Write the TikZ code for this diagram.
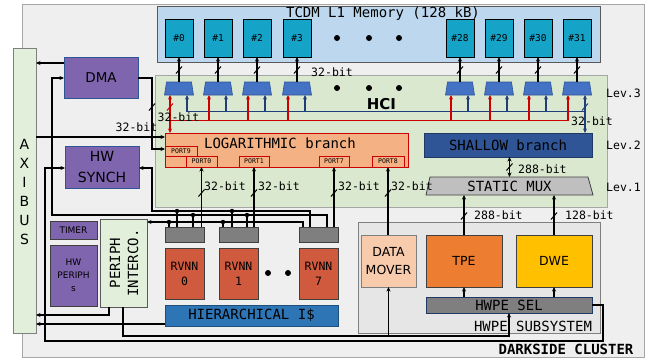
\documentclass[tikz,border=0pt]{standalone}
\usepackage{fontspec}
\setmainfont{DejaVu Sans}
\newfontfamily\monof{DejaVu Sans Mono}
\usetikzlibrary{arrows.meta,calc}
\definecolor{clbg}{HTML}{EFEFEF}
\definecolor{clbd}{HTML}{A6A6A6}
\definecolor{axifill}{HTML}{E2EFDA}
\definecolor{axibd}{HTML}{7F7F7F}
\definecolor{tcdmfill}{HTML}{BDD7EE}
\definecolor{tcdmbd}{HTML}{595959}
\definecolor{bankfill}{HTML}{16A3C8}
\definecolor{hcifill}{HTML}{DAE8D0}
\definecolor{muxfill}{HTML}{4472C4}
\definecolor{muxbd}{HTML}{2F5597}
\definecolor{redc}{HTML}{CC0000}
\definecolor{bluec}{HTML}{1F3E7A}
\definecolor{logfill}{HTML}{F4B183}
\definecolor{shalfill}{HTML}{2F5597}
\definecolor{shalbd}{HTML}{203864}
\definecolor{smuxfill}{HTML}{BFBFBF}
\definecolor{darkbd}{HTML}{404040}
\definecolor{purp}{HTML}{7F64AE}
\definecolor{gbfill}{HTML}{7F7F7F}
\definecolor{rvnn}{HTML}{D05A3E}
\definecolor{hier}{HTML}{2E75B6}
\definecolor{hierbd}{HTML}{1F4E79}
\definecolor{dmfill}{HTML}{F8CBAD}
\definecolor{tpec}{HTML}{ED7D31}
\definecolor{dwec}{HTML}{FFC000}
\definecolor{subfill}{HTML}{E7E6E6}
\newcommand\fsz[1]{\fontsize{#1}{#1}\selectfont}
\newcommand\mkbox[7]{\node[bx,#1,minimum width={(#5)-(#3)},minimum height={(#6)-(#4)}] (#2) at ({((#3)+(#5))/2},{((#4)+(#6))/2}) {#7};}
\newcommand\wtick[3][black]{\draw[#1,line width=1pt] ({#2-3},{#3+3.5}) -- ({#2+3},{#3-3.5});}
\begin{document}
\begin{tikzpicture}[x=1pt,y=-1pt,
  bx/.style={draw, inner sep=0pt, outer sep=0pt, line width=0.8pt, align=center},
  atip/.tip={Stealth[length=4.5pt,width=4pt]},
  wire/.style={line width=1.1pt, draw=black},
  arr/.style={wire, -atip},
  rl/.style={line width=1.1pt, draw=redc},
  bl/.style={line width=1.1pt, draw=bluec},
  lbl/.style={font=\monof\fsz{11.5}, inner sep=0pt},
  purpst/.style={fill=purp, draw=muxbd},
  port/.style={fill=logfill, draw=redc, font=\monof\fsz{6.5}},
  mono14/.style={font=\monof\fsz{14}}]
\useasboundingbox (0,0) rectangle (651,360);

% main frames
\mkbox{fill=clbg,draw=clbd,line width=1pt}{cluster}{22}{4}{644}{357}{}
\mkbox{fill=axifill,draw=axibd}{axi}{13}{48}{36}{333}{}
\node[font={\fontsize{14}{19}\selectfont}, align=center, inner sep=0pt] (axit) at (24.5,192) {A\\X\\I\\B\\U\\S};
\mkbox{fill=tcdmfill,draw=tcdmbd}{tcdm}{157}{6}{600}{62}{}
\node[mono14, inner sep=0pt] (tcdmt) at (383,13.5) {TCDM L1 Memory (128 kB)};
\mkbox{fill=hcifill,draw=clbd}{hci}{155}{75}{607}{207}{}
\node[font=\bfseries\fsz{15}, inner sep=0pt] (hcit) at (381.5,104) {HCI};
\node[lbl] (lev3) at (623.5,93) {Lev.3};
\node[lbl] (lev2) at (623.5,145) {Lev.2};
\node[lbl] (lev1) at (623.5,187) {Lev.1};
\foreach \x in {337,369,399}{\fill (\x,38) circle (3pt); \fill (\x,88) circle (3pt);}

% HCI branches
\mkbox{fill=logfill,draw=redc,line width=1pt}{log}{165}{133}{408}{167}{}
\node[mono14, inner sep=0pt] (logt) at (280,143.5) {LOGARITHMIC branch};
\mkbox{port}{p9}{165}{146}{197}{156}{PORT9}
\mkbox{port}{pe}{165}{156}{186}{167}{}
\mkbox{port}{p0}{186}{156}{217}{167}{PORT0}
\mkbox{port}{p1}{239}{156}{269}{167}{PORT1}
\mkbox{port}{p7}{319}{156}{349}{167}{PORT7}
\mkbox{port}{p8}{372}{156}{404}{167}{PORT8}
\mkbox{fill=shalfill,draw=shalbd,mono14}{shallow}{424}{133}{592}{157}{SHALLOW branch}
\filldraw[fill=smuxfill, draw=darkbd, line width=0.8pt] (430,177) -- (588,177) -- (593,195) -- (426,195) -- cycle;
\node[minimum width=167, minimum height=18, inner sep=0pt, outer sep=0pt, mono14] (smux) at (509.5,186) {STATIC MUX};

% banks and muxes
\foreach \c/\n in {179/0,218/1,257/2,297/3,460/28,499/29,538/30,577/31}{
  \node[bx, fill=bankfill, draw=black, minimum width=28, minimum height=38, font=\monof\fsz{9.5}] (b\n) at (\c,38) {\#\n};
  \node[minimum width=29, minimum height=13, inner sep=0pt, outer sep=0pt] (m\n) at (\c,88.5) {};
  \filldraw[fill=muxfill, draw=muxbd, line width=0.6pt] ([xshift=2pt]m\n.north west) -- ([xshift=-2pt]m\n.north east) -- (m\n.south east) -- (m\n.south west) -- cycle;
  \draw[arr] (m\n.north) -- (b\n.south);
  \wtick{\c}{70}
  \path ([xshift=-9pt]m\n.south) coordinate (rt\n) ([xshift=8pt]m\n.south) coordinate (bt\n);
}
\node[lbl] (l32a) at (332,72) {32-bit};

\coordinate (rbus) at (0,120.5);
\coordinate (bbus) at (0,111.5);
\draw[bl] (bt0 |- bbus) -- (bt31 |- bbus);
\foreach \n in {0,1,2,3,28,29,30} \draw[bl,-atip] (bt\n |- bbus) -- (bt\n);
\draw[rl] (rt0 |- rbus) -- (rt31 |- rbus);
\foreach \n in {1,2,3,28,29,30,31} \draw[rl,-atip] (rt\n |- rbus) -- (rt\n);
\draw[rl,atip-atip] (rt0 |- log.north) -- (rt0);
\draw[bl,atip-atip] (bt31 |- shallow.north) -- (bt31);
\wtick[redc]{170}{107}
\wtick[bluec]{585}{107}
\node[lbl] (l32b) at (178.5,117) {32-bit};
\node[lbl] (l32c) at (592,121) {32-bit};

\draw[wire,atip-atip] (smux.north |- shallow.south) -- (smux.north);
\wtick{509.5}{167}
\node[lbl, anchor=west] (l288a) at (518,169) {288-bit};

% left side blocks
\mkbox{purpst,font=\fsz{13.5}}{dma}{64}{57}{138}{98}{DMA}
\mkbox{purpst,font={\fontsize{14}{21}\selectfont}}{hws}{65}{146}{139}{188}{HW\\SYNCH}
\mkbox{fill=purp,draw=darkbd,font=\fsz{9}}{timer}{50}{221}{97}{239}{TIMER}
\mkbox{fill=purp,draw=darkbd,font={\fontsize{9}{13}\selectfont}}{hwp}{50}{245}{97}{306}{HW\\PERIPH\\s}
\mkbox{fill=axifill,draw=tcdmbd}{pi}{100}{219}{147}{307}{}
\node[rotate=90, font={\monof\fontsize{14}{18}\selectfont}, align=center, inner sep=0pt] (pit) at (124,263) {PERIPH\\INTERCO.};

% cores
\mkbox{fill=gbfill,draw=darkbd}{gb0}{165}{227}{204}{242}{}
\mkbox{fill=gbfill,draw=darkbd}{gb1}{219}{227}{258}{242}{}
\mkbox{fill=gbfill,draw=darkbd}{gb7}{299}{227}{338}{242}{}
\mkbox{fill=rvnn,draw=darkbd,font={\monof\fontsize{11.5}{15}\selectfont}}{r0}{165}{248}{204}{299}{RVNN\\0}
\mkbox{fill=rvnn,draw=darkbd,font={\monof\fontsize{11.5}{15}\selectfont}}{r1}{219}{248}{258}{299}{RVNN\\1}
\mkbox{fill=rvnn,draw=darkbd,font={\monof\fontsize{11.5}{15}\selectfont}}{r7}{299}{248}{338}{299}{RVNN\\7}
\fill (268,273) circle (3pt); \fill (288,273) circle (3pt);
\mkbox{fill=hier,draw=hierbd,mono14}{hier}{165}{305}{338}{326}{HIERARCHICAL I\$}

% HWPE subsystem
\mkbox{fill=subfill,draw=axibd}{sub}{358}{222}{600}{333}{}
\node[mono14, inner sep=0pt] (subt) at (533,326) {HWPE SUBSYSTEM};
\mkbox{fill=dmfill,draw=axibd,font={\fontsize{12.5}{18}\selectfont}}{dm}{361}{235}{416}{287}{DATA\\MOVER}
\mkbox{fill=tpec,draw=darkbd,font=\fsz{12.5}}{tpe}{426}{235}{502}{287}{TPE}
\mkbox{fill=dwec,draw=darkbd,font=\fsz{12.5}}{dwe}{516}{235}{592}{287}{DWE}
\mkbox{fill=gbfill,draw=shalbd,mono14}{hwsel}{426}{297}{592}{313}{HWPE SEL}
\node[font=\monof\bfseries\fsz{14}, inner sep=0pt] (clt) at (566,349) {DARKSIDE CLUSTER};

% helper coordinates
\foreach \v in {45,52,109,123,152,303,310,327,509,603}{\coordinate (v\v) at (\v,0);}
\foreach \h in {63,78,137,149,168,211,215,222,305,315,324,336,341}{\coordinate (h\h) at (0,\h);}

% connectors
\draw[arr] (dma.west |- h63) -- (axi.east |- h63);
\draw[arr] (gb7.north -| v327) -- (v327 |- h215) -- (v52 |- h215) -- (v52 |- h78) -- (dma.west |- h78);
\draw[arr] (dma.east |- h78) -- (v152 |- h78) -- (v152 |- h149) -- (log.west |- h149);
\wtick{152}{107}
\node[lbl] (l32d) at (136.5,127) {32-bit};
\draw[arr] (axi.east |- h137) -- (log.west |- h137);
\draw[arr] (gb7.north -| v310) -- (v310 |- h211) -- (v152 |- h211) -- (v152 |- h168) -- (hws.east |- h168);
\draw[arr] (gb7.north -| v303) -- (v303 |- h222) -- (pi.east |- h222);
\foreach \x/\g in {177/gb0,232/gb1}{\draw[wire] (\g.north -| \x,0) -- (\x,211); \fill (\x,211) circle (2.2pt);}
\foreach \x/\g in {193/gb0,247/gb1}{\draw[wire] (\g.north -| \x,0) -- (\x,215); \fill (\x,215) circle (2.2pt);}
\foreach \x/\g in {169/gb0,223/gb1}{\draw[wire] (\g.north -| \x,0) -- (\x,222); \fill (\x,222) circle (2.2pt);}
\draw[arr] (hwsel.east |- h305) -- (v603 |- h305) -- (v603 |- h341) -- (v45 |- h341) -- (v45 |- h168) -- (hws.west |- h168);
\draw[arr] (pi.south -| v109) -- (v109 |- h315) -- (axi.east |- h315);
\draw[arr] (pi.south -| v123) -- (v123 |- h336) -- (v509 |- h336) -- (hwsel.south -| v509);
\draw[arr] (dm.south |- h336) -- (dm.south);
\draw[arr] (hier.west |- h324) -- (axi.east |- h324);

% 32-bit port links
\draw[arr] (p0.south |- gb0.north) -- (p0.south);
\draw[arr] (p1.south |- gb1.north) -- (p1.south);
\draw[arr] (p7.south |- gb7.north) -- (p7.south);
\draw[arr] (p8.south |- dm.north) -- (p8.south);
\foreach \x in {201.5,254,334,388}{\wtick{\x}{193}}
\foreach \x in {204,258,338,391}{\node[lbl,anchor=west] at (\x,186) {32-bit};}

% HWPE links
\draw[arr] (hwsel.north -| tpe.south) -- (tpe.south);
\draw[arr] (hwsel.north -| dwe.south) -- (dwe.south);
\draw[arr] (tpe.north) -- (tpe.north |- smux.south);
\draw[arr] (dwe.north) -- (dwe.north |- smux.south);
\wtick{464}{216}
\wtick{554}{216}
\node[lbl,anchor=west] (l288b) at (474,215) {288-bit};
\node[lbl,anchor=west] (l128) at (565,215) {128-bit};
\end{tikzpicture}
\end{document}
